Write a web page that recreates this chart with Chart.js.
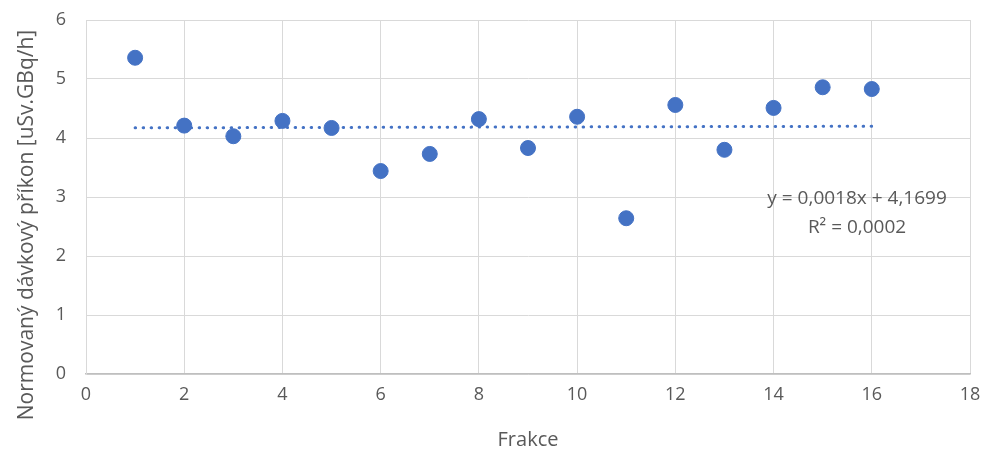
<!DOCTYPE html>
<html>
<head>
<meta charset="utf-8">
<script src="https://cdn.jsdelivr.net/npm/chart.js@4/dist/chart.umd.min.js"></script>
<style>
  html, body { margin: 0; padding: 0; background: #fff; }
  #wrap { width: 990px; height: 456px; }
</style>
</head>
<body>
<div id="wrap"><canvas id="myChart"></canvas></div>
<script>
'use strict';

// data
let fractions = [1, 2, 3, 4, 5, 6, 7, 8, 9, 10, 11, 12, 13, 14, 15, 16];
let doseRates = [5.36, 4.21, 4.03, 4.29, 4.17, 3.44, 3.73, 4.32, 3.83, 4.36, 2.64, 4.56, 3.80, 4.51, 4.86, 4.83];

// linear trendline end points
let trendX = [1, 16];
let trendY = [4.172, 4.199];

let trendLabel = ['y = 0,0018x + 4,1699', 'R² = 0,0002'];
let yTitle = 'Normovaný dávkový příkon [uSv.GBq/h]';

let blue = '#4472C4';
let gridColor = '#d9d9d9';
let textColor = '#595959';
let fontFamily = '"Open Sans", "Noto Sans", sans-serif';

function toPoints(xs, ys) {
  let pts = [];
  for (let i = 0; i < xs.length; i++) {
    pts.push({ x: xs[i], y: ys[i] });
  }
  return pts;
}

// draws the trendline equation and the y axis title
let textPlugin = {
  id: 'extraText',
  afterDatasetsDraw(chart) {
    let ctx = chart.ctx;
    let x = chart.scales.x.getPixelForValue(15.7);
    let y = chart.scales.y.getPixelForValue(2.97);
    ctx.save();
    ctx.font = '19px ' + fontFamily;
    ctx.fillStyle = textColor;
    ctx.textAlign = 'center';
    ctx.textBaseline = 'middle';
    ctx.fillText(trendLabel[0], x, y);
    ctx.fillText(trendLabel[1], x, y + 29);

    ctx.font = '21px ' + fontFamily;
    ctx.translate(27, 225);
    ctx.rotate(-Math.PI / 2);
    ctx.fillText(yTitle, 0, 0);
    ctx.restore();
  }
};

const ctx = document.getElementById('myChart');
const config = {
  type: 'scatter',
  data: {
    datasets: [
      {
        label: 'Trend',
        data: toPoints(trendX, trendY),
        showLine: true,
        borderColor: blue,
        borderWidth: 3,
        borderDash: [0.5, 7.5],
        borderCapStyle: 'round',
        pointRadius: 0,
        order: 2
      },
      {
        label: 'Data',
        data: toPoints(fractions, doseRates),
        backgroundColor: blue,
        borderColor: blue,
        pointRadius: 7.5,
        pointHoverRadius: 7.5,
        order: 1
      }
    ]
  },
  options: {
    responsive: true,
    maintainAspectRatio: false,
    animation: false,
    layout: { padding: { top: 20, right: 20, left: 0, bottom: 4 } },
    plugins: {
      legend: { display: false },
      tooltip: { enabled: false }
    },
    scales: {
      x: {
        type: 'linear',
        min: 0,
        max: 18,
        ticks: { stepSize: 2, color: textColor, font: { family: fontFamily, size: 18 }, padding: 10 },
        grid: { color: gridColor, lineWidth: 1, drawTicks: false },
        border: { color: '#bfbfbf', width: 1.5 },
        title: { display: true, text: 'Frakce', color: textColor, font: { family: fontFamily, size: 20 }, padding: { top: 6, bottom: 0 } },
        afterFit(scale) {
          scale.height = 78;
          scale.paddingLeft = 0;
          scale.paddingRight = 0;
        }
      },
      y: {
        min: 0,
        max: 6,
        ticks: { stepSize: 1, color: textColor, font: { family: fontFamily, size: 18 }, padding: 20 },
        grid: { color: gridColor, lineWidth: 1, drawTicks: false },
        border: { color: gridColor, width: 1 },
        afterFit(scale) {
          scale.width = 86;
          scale.paddingTop = 0;
          scale.paddingBottom = 0;
        }
      }
    }
  },
  plugins: [textPlugin]
};
new Chart(ctx, config);
</script>
</body>
</html>
